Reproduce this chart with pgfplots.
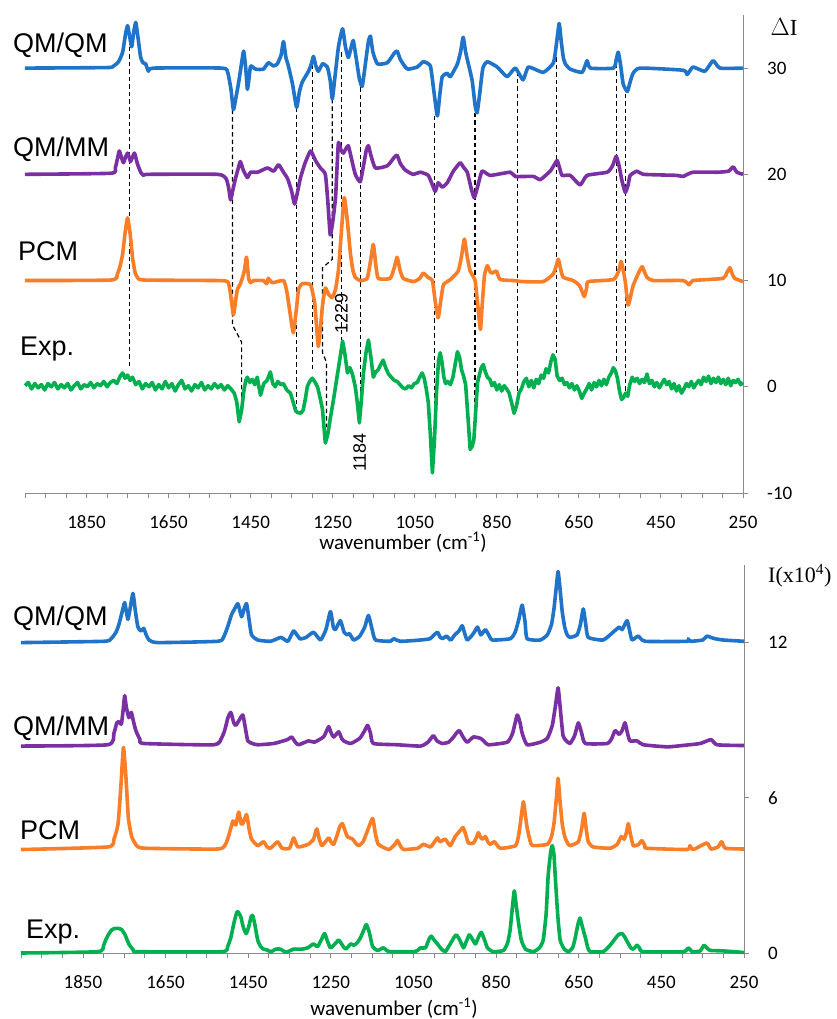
\documentclass[border=0pt]{standalone}
\usepackage{pgfplots}
\pgfplotsset{compat=1.18}
\usepackage{fontspec}
\setmainfont{Carlito}
\newfontfamily\arialfont{Liberation Sans}
\newfontfamily\romanfont{Liberation Serif}

\definecolor{qmqm}{HTML}{1F73C9}
\definecolor{qmmm}{HTML}{7A2FA2}
\definecolor{pcm}{HTML}{FA7D28}
\definecolor{expc}{HTML}{00B050}
\definecolor{axisgray}{HTML}{8A8A8A}

\pgfplotsset{
  spectrum/.style={
    scale only axis, x dir=reverse, xmin=250, xmax=2000,
    axis x line*=bottom, axis y line*=right,
    axis line style={draw=axisgray, line width=0.9pt, -},
    tick style={draw=axisgray, line width=0.9pt},
    tick align=outside, major tick length=5pt, minor tick length=5pt,
    xtick={1850,1650,1450,1250,1050,850,650,450,250},
    xticklabels={1850,1650,1450,1250,1050,850,650,450,250},
    minor xtick={2000,1950,...,250},
    ticklabel style={font=\fontsize{19}{22}\selectfont, inner sep=0pt},
    xticklabel style={anchor=center, yshift=-24pt},
    yticklabel style={anchor=west, xshift=19pt},
    clip=false,
  },
  spec/.style={line width=3.6pt, line join=round, smooth, tension=0.3},
  guide/.style={black, line width=1.2pt, dash pattern=on 4.5pt off 3pt},
}

\begin{document}
\begin{tikzpicture}
\useasboundingbox (0,0) rectangle (836pt,1019pt);

% ---------------- difference spectra ----------------
\begin{axis}[spectrum, at={(25pt,526pt)}, anchor=south west,
  width=718pt, height=478pt, ymin=-10, ymax=35,
  ytick={-10,0,10,20,30}, yticklabels={-10,0,10,20,30}]

% band correlation guides
\addplot[guide] coordinates {(1745,32.0) (1745,1.8)};
\addplot[guide] coordinates {(1494,26.1) (1494,5.8) (1472,4.2) (1472,-1.5)};
\addplot[guide] coordinates {(1338,26.3) (1338,-2.0)};
\addplot[guide] coordinates {(1299,31.0) (1299,1.6)};
\addplot[guide] coordinates {(1251,27.1) (1251,12.0) (1275,11.2) (1275,3.2) (1265,2.3) (1265,-3.8)};
\addplot[guide] coordinates {(1229,31.5) (1229,4.4)};
\addplot[guide] coordinates {(1183,28.2) (1183,-3.3)};
\addplot[guide] coordinates {(1002,25.5) (1002,-6.1)};
\addplot[guide] coordinates {(903,25.8) (903,-4.3)};
\addplot[guide] coordinates {(800,29.7) (800,-0.9)};
\addplot[guide] coordinates {(705,31.0) (705,3.2)};
\addplot[guide] coordinates {(559,30.4) (559,2.3)};
\addplot[guide] coordinates {(537,28.3) (537,-0.9)};

% Exp.
\addplot[expc, line width=3.6pt, line join=round] coordinates {
(2000,0.1) (1992,0.4) (1984,-0.2) (1976,0.3) (1968,-0.1) (1960,0.2) (1952,-0.3) (1944,0.3)
(1936,0.0) (1928,0.4) (1920,-0.2) (1912,0.2) (1904,-0.1) (1896,0.3) (1888,-0.3) (1880,0.1)
(1872,0.4) (1864,-0.2) (1856,0.2) (1848,0.0) (1840,0.4) (1832,-0.1) (1824,0.3) (1816,0.1)
(1808,0.5) (1800,0.0) (1792,0.4) (1784,0.6) (1776,0.3) (1768,1.0) (1762,1.3) (1756,0.8)
(1750,1.1) (1744,0.6) (1738,0.9) (1730,0.2) (1722,0.5) (1714,-0.2) (1706,0.3) (1698,0.0)
(1690,0.4) (1682,-0.3) (1674,0.2) (1666,-0.2) (1658,0.5) (1650,-0.1) (1642,0.3) (1634,-0.4)
(1626,0.2) (1618,0.6) (1610,-0.2) (1602,0.1) (1594,-0.4) (1586,0.2) (1578,-0.1) (1570,0.4)
(1562,-0.3) (1554,0.1) (1546,-0.2) (1538,0.3) (1530,-0.1) (1522,0.2) (1514,-0.3) (1506,0.1)
(1498,-0.2) (1490,-0.6) (1484,-1.4) (1478,-3.3) (1472,-2.2) (1467,-0.5) (1462,0.6) (1458,0.9)
(1452,0.4) (1446,0.7) (1440,0.2) (1434,0.9) (1426,-0.8) (1418,0.3) (1410,0.6) (1402,1.4)
(1396,0.3) (1390,0.0) (1384,0.5) (1376,0.2) (1370,0.3) (1362,-0.3) (1353,-0.6) (1346,-1.5)
(1340,-2.3) (1336,-2.4) (1328,-2.5) (1322,-2.2) (1316,-1.0) (1312,0.0) (1306,0.5) (1300,0.8)
(1294,0.5) (1287,0.0) (1281,-1.0) (1275,-2.1) (1268,-5.3) (1262,-4.5) (1256,-3.0) (1248,-1.2)
(1240,0.8) (1233,2.5) (1226,4.3) (1220,3.0) (1214,1.3) (1208,1.8) (1202,1.2) (1195,0.0)
(1190,-1.5) (1185,-3.4) (1180,-1.2) (1175,1.3) (1169,3.2) (1163,4.4) (1157,2.8) (1151,0.9)
(1145,1.4) (1139,1.6) (1133,2.1) (1127,2.5) (1121,1.8) (1114,1.2) (1107,0.9) (1100,0.6)
(1093,0.5) (1086,0.2) (1079,-0.1) (1072,-0.2) (1065,0.1) (1058,-0.1) (1051,0.3) (1044,0.4)
(1038,0.9) (1032,1.3) (1027,0.8) (1022,-0.2) (1017,-1.5) (1012,-4.5) (1007,-8.1) (1002,-5.0)
(997,-0.5) (992,2.5) (988,3.2) (984,2.4) (979,0.9) (975,0.3) (970,0.5) (963,0.2)
(957,0.9) (952,2.0) (946,3.3) (941,2.8) (936,1.6) (931,1.0) (926,0.2) (921,-2.5)
(915,-5.9) (910,-5.6) (906,-5.0) (901,-2.0) (897,0.4) (892,1.2) (888,1.8) (883,2.1)
(878,1.4) (873,0.9) (867,0.7) (862,0.1) (856,0.4) (850,-0.3) (844,0.2) (838,-0.4)
(832,0.1) (826,-0.2) (820,-0.6) (814,-1.5) (808,-2.5) (802,-1.8) (796,-0.6) (790,-0.2)
(784,0.5) (778,0.8) (772,0.0) (766,0.6) (760,-0.1) (754,0.7) (748,0.3) (742,1.1)
(736,0.8) (730,1.7) (724,1.3) (718,2.4) (713,3.0) (708,2.6) (703,1.0) (697,0.6)
(691,0.8) (685,0.2) (679,0.4) (673,-0.1) (667,0.3) (661,-0.3) (655,0.1) (649,-0.4)
(643,-1.1) (637,-0.6) (631,-0.2) (625,0.3) (619,-0.3) (613,0.4) (607,0.0) (601,0.6)
(595,0.1) (589,0.7) (583,0.2) (577,0.9) (571,1.3) (566,1.8) (561,1.5) (556,0.8)
(551,-0.4) (546,-1.2) (541,-1.0) (536,-0.6) (531,-0.9) (526,0.2) (520,0.9) (514,0.5)
(508,0.8) (502,0.3) (496,0.7) (490,0.4) (484,1.2) (478,0.3) (472,0.6) (466,0.0)
(460,0.4) (454,-0.1) (448,0.3) (442,0.7) (436,0.2) (430,0.5) (424,-0.2) (418,0.3)
(412,-0.4) (406,0.1) (400,-0.6) (394,-0.2) (388,0.3) (382,0.0) (376,0.5) (370,-0.1)
(364,0.3) (358,0.6) (352,0.2) (346,0.9) (340,0.5) (334,1.0) (328,0.3) (322,0.8)
(316,0.4) (310,0.9) (304,0.3) (298,0.7) (292,0.2) (286,0.8) (280,0.1) (274,0.6)
(268,0.4) (262,0.7) (256,0.2) (250,0.4)};

% PCM
\addplot[pcm, spec] coordinates {
(2000,10) (1790,10.05) (1775,10.6) (1768,11.4) (1762,12.5) (1756,14.5) (1750,15.9) (1744,14.5)
(1738,12.2) (1732,10.8) (1726,10.3) (1710,10.05) (1531,10.0) (1506,9.9) (1500,9.0) (1492,6.8)
(1486,8.3) (1482,9.2) (1475,9.7) (1466,10.8) (1460,12.2) (1455,10.2) (1450,9.8) (1443,10.0)
(1419,10.0) (1411,9.7) (1407,10.2) (1397,9.8) (1370,10.0) (1362,9.0) (1355,7.2) (1346,5.1)
(1338,7.5) (1333,9.2) (1324,9.7) (1304,9.6) (1294,7.9) (1289,5.5) (1285,3.8) (1280,5.5)
(1275,7.6) (1268,9.3) (1260,8.7) (1251,8.4) (1243,9.2) (1236,11.0) (1230,14.0) (1222,17.8)
(1214,15.5) (1207,12.6) (1201,11.0) (1195,10.3) (1183,10.0) (1166,10.2) (1158,11.8) (1151,13.4)
(1145,11.5) (1139,10.2) (1110,10.2) (1100,11.2) (1093,12.2) (1086,11.0) (1078,10.2) (1053,9.9)
(1038,10.2) (1029,10.7) (1018,10.3) (1007,10.0) (1000,8.0) (993,6.5) (987,8.0) (980,9.6)
(963,10.1) (944,10.9) (936,12.3) (929,13.9) (922,12.2) (915,10.9) (903,10.0) (896,7.5)
(890,5.4) (886,7.5) (880,10.5) (873,11.4) (866,10.8) (861,10.7) (851,10.9) (842,10.1)
(810,10.0) (786,9.9) (737,9.9) (713,10.6) (705,11.4) (700,12.0) (694,11.0) (688,10.3)
(664,10.0) (648,9.5) (637,8.5) (631,9.3) (627,9.9) (566,10.1) (553,10.9) (547,11.8)
(542,11.0) (537,9.9) (530,7.7) (524,8.5) (518,9.5) (506,10.6) (496,11.3) (490,10.8)
(484,10.3) (469,10.0) (396,10.0) (381,9.6) (372,10.0) (299,10.2) (290,10.7) (282,11.2)
(276,10.6) (270,10.2) (250,9.9)};

% QM/MM
\addplot[qmmm, spec] coordinates {
(2000,20) (1791,20.1) (1780,20.6) (1774,21.6) (1770,22.2) (1765,21.6) (1760,21.1) (1755,21.6)
(1750,22.0) (1746,21.6) (1743,21.2) (1738,21.6) (1733,22.0) (1726,21.0) (1718,20.2) (1711,19.9)
(1700,20.0) (1531,20.0) (1510,19.6) (1504,18.8) (1499,17.6) (1494,18.4) (1487,19.6) (1480,20.6)
(1475,21.2) (1468,20.4) (1458,19.7) (1450,20.2) (1433,20.2) (1409,20.6) (1394,20.3) (1382,20.9)
(1370,20.2) (1360,19.6) (1350,18.4) (1343,17.2) (1336,18.3) (1329,19.6) (1318,21.0) (1304,22.2)
(1292,21.3) (1280,20.6) (1268,20.0) (1262,17.5) (1256,14.3) (1249,15.8) (1243,17.9) (1239,21.0)
(1236,23.0) (1230,22.3) (1224,22.0) (1218,22.4) (1212,22.7) (1205,21.6) (1195,20.0) (1183,19.3)
(1175,20.8) (1168,22.3) (1163,22.7) (1157,21.8) (1146,20.6) (1117,20.8) (1100,21.6) (1093,21.8)
(1085,21.0) (1073,20.4) (1054,20.0) (1036,20.2) (1017,19.9) (1007,19.0) (1000,18.4) (993,19.2)
(983,18.8) (971,19.2) (956,20.3) (946,20.8) (939,21.1) (930,20.6) (922,20.2) (912,18.6)
(905,17.8) (897,18.8) (886,20.3) (866,19.9) (817,20.2) (805,19.8) (761,19.8) (744,19.5)
(720,20.3) (710,20.9) (703,21.3) (697,20.6) (691,19.9) (671,19.9) (647,19.0) (630,19.9)
(581,20.2) (568,20.8) (559,21.7) (552,20.8) (545,19.4) (537,18.3) (530,19.0) (525,19.9)
(508,20.3) (493,20.0) (411,19.9) (396,19.8) (372,20.2) (311,20.2) (285,20.3) (274,20.7)
(265,20.2) (250,20.0)};

% QM/QM
\addplot[qmqm, spec] coordinates {
(2000,30) (1800,30.05) (1784,30.2) (1772,30.6) (1762,31.5) (1755,33.2) (1750,34.0) (1745,33.0)
(1740,32.0) (1735,33.4) (1730,34.3) (1725,33.0) (1718,31.0) (1712,30.5) (1706,30.4) (1699,29.7)
(1687,30.0) (1520,30.0) (1506,29.6) (1498,28.0) (1492,26.1) (1486,27.2) (1479,28.7) (1472,30.5)
(1467,31.6) (1462,30.0) (1458,28.0) (1454,29.0) (1450,30.2) (1438,29.9) (1419,29.9) (1407,30.5)
(1394,30.2) (1385,30.4) (1376,31.2) (1370,32.5) (1364,31.0) (1358,30.2) (1348,28.5) (1338,26.3)
(1331,27.8) (1324,28.7) (1309,29.7) (1302,30.4) (1297,31.1) (1291,30.2) (1285,29.7) (1275,30.4)
(1263,30.1) (1256,28.8) (1251,27.1) (1245,29.0) (1236,32.0) (1226,33.7) (1219,32.0) (1212,31.0)
(1206,31.8) (1200,32.6) (1193,31.0) (1185,29.0) (1178,28.3) (1170,30.5) (1163,32.5) (1158,33.0)
(1152,31.5) (1141,30.4) (1117,30.5) (1100,31.4) (1093,31.6) (1085,30.8) (1073,30.1) (1066,29.9)
(1044,30.1) (1029,30.6) (1012,30.2) (1004,28.0) (995,25.5) (989,27.5) (983,29.2) (971,29.5)
(963,29.2) (946,30.4) (938,31.6) (932,32.9) (926,31.5) (920,30.5) (910,28.8) (903,26.5)
(898,25.8) (892,27.5) (884,30.0) (873,30.6) (849,30.1) (825,29.2) (805,30.0) (786,28.9)
(773,30.1) (737,29.6) (712,30.5) (704,32.5) (698,34.2) (693,32.5) (688,31.0) (683,30.4)
(671,29.9) (642,29.6) (630,30.7) (622,30.0) (566,30.0) (559,30.8) (554,31.5) (548,30.2)
(542,28.5) (532,27.8) (525,28.7) (518,29.5) (501,30.0) (396,29.8) (386,29.4) (372,30.1)
(343,29.7) (323,30.7) (306,30.0) (250,30.0)};

\node[rotate=90, font=\arialfont\fontsize{18}{20}\selectfont] at (axis cs:1229,6.9) {1229};
\node[rotate=90, font=\arialfont\fontsize{18}{20}\selectfont] at (axis cs:1184,-6.2) {1184};
\end{axis}

% ---------------- absorption spectra ----------------
\begin{axis}[spectrum, at={(21pt,66pt)}, anchor=south west,
  width=723pt, height=388pt, ymin=0, ymax=15,
  ytick={0,6,12}, yticklabels={0,6,12}]

% Exp.
\addplot[expc, spec] coordinates {
(2000,0.0) (1814,0.05) (1800,0.3) (1795,0.5) (1787,0.75) (1780,0.9) (1772,0.95) (1764,0.95)
(1756,0.9) (1748,0.7) (1739,0.35) (1728,0.12) (1717,0.05) (1514,0.05) (1500,0.25) (1492,0.6)
(1484,1.2) (1478,1.55) (1475,1.6) (1468,1.4) (1462,1.0) (1455,0.75) (1449,1.0) (1443,1.4)
(1439,1.45) (1434,1.1) (1427,0.5) (1420,0.25) (1413,0.15) (1405,0.12) (1395,0.05) (1383,0.15)
(1372,0.15) (1362,0.05) (1354,0.05) (1340,0.15) (1320,0.15) (1306,0.2) (1292,0.35) (1282,0.25)
(1272,0.55) (1265,0.75) (1258,0.45) (1251,0.2) (1240,0.35) (1231,0.5) (1222,0.3) (1214,0.15)
(1202,0.35) (1194,0.3) (1186,0.4) (1178,0.6) (1170,0.9) (1164,1.1) (1157,0.8) (1149,0.25)
(1137,0.1) (1123,0.2) (1115,0.1) (1106,0.05) (1050,0.05) (1040,0.1) (1033,0.2) (1021,0.2)
(1012,0.55) (1007,0.65) (1000,0.5) (992,0.35) (982,0.15) (973,0.05) (961,0.35) (952,0.6)
(946,0.7) (938,0.5) (929,0.2) (922,0.45) (915,0.7) (908,0.55) (900,0.35) (893,0.6)
(886,0.8) (879,0.55) (871,0.2) (857,0.05) (832,0.1) (822,0.4) (816,0.9) (811,1.7)
(806,2.4) (801,1.8) (796,1.2) (789,0.5) (779,0.15) (760,0.05) (745,0.2) (736,0.5)
(729,1.5) (724,3.0) (718,3.9) (714,4.15) (710,3.8) (707,3.0) (701,1.5) (695,0.5)
(685,0.15) (675,0.05) (665,0.2) (659,0.55) (652,1.1) (647,1.35) (641,1.0) (634,0.6)
(628,0.2) (622,0.05) (591,0.05) (574,0.3) (562,0.55) (553,0.72) (545,0.75) (538,0.6)
(533,0.45) (524,0.2) (518,0.15) (512,0.25) (509,0.3) (503,0.2) (494,0.05) (397,0.05)
(385,0.2) (375,0.05) (356,0.08) (347,0.3) (340,0.2) (332,0.1) (300,0.08) (250,0.02)};

% PCM
\addplot[pcm, spec] coordinates {
(2000,4.0) (1790,4.1) (1775,4.4) (1765,5.0) (1758,6.5) (1752,7.95) (1746,6.8) (1740,5.2)
(1732,4.5) (1720,4.15) (1700,4.05) (1524,4.02) (1505,4.2) (1497,4.55) (1487,5.1) (1480,4.95)
(1473,5.45) (1467,5.0) (1463,5.0) (1454,5.35) (1448,4.8) (1442,4.4) (1427,4.15) (1413,4.3)
(1404,4.1) (1396,4.05) (1379,4.3) (1368,4.05) (1350,4.05) (1340,4.45) (1330,4.1) (1305,4.2)
(1292,4.4) (1284,4.8) (1278,4.4) (1272,4.15) (1263,4.3) (1255,4.45) (1248,4.25) (1243,4.2)
(1235,4.55) (1228,4.9) (1222,5.0) (1215,4.7) (1210,4.5) (1197,4.4) (1190,4.25) (1183,4.15)
(1172,4.3) (1162,4.7) (1149,5.2) (1142,4.6) (1135,4.2) (1110,4.0) (1095,4.2) (1089,4.35)
(1082,4.15) (1074,4.0) (1040,4.05) (1026,4.2) (1009,4.1) (999,4.3) (992,4.45) (986,4.3)
(980,4.35) (973,4.4) (961,4.15) (949,4.5) (936,4.75) (930,4.85) (924,4.6) (917,4.25)
(905,4.25) (898,4.45) (893,4.65) (887,4.45) (883,4.4) (876,4.5) (870,4.3) (864,4.2)
(854,4.3) (840,4.05) (803,4.15) (795,4.6) (789,5.3) (784,5.85) (779,5.3) (775,4.85)
(768,4.35) (762,4.15) (726,4.2) (716,4.5) (710,5.0) (704,6.0) (700,6.75) (696,6.0)
(690,5.0) (684,4.5) (677,4.25) (671,4.15) (651,4.3) (643,4.8) (637,5.4) (632,4.8)
(627,4.3) (615,4.1) (574,4.05) (557,4.2) (547,4.5) (540,4.4) (534,4.7) (530,5.0)
(525,4.6) (518,4.15) (505,4.2) (497,4.35) (490,4.15) (485,4.05) (388,4.0) (381,4.15)
(373,4.0) (340,4.25) (330,4.02) (313,4.1) (304,4.3) (295,4.05) (250,4.02)};

% QM/MM
\addplot[qmmm, spec] coordinates {
(2000,8.0) (1790,8.05) (1775,8.5) (1768,8.9) (1763,8.95) (1757,8.85) (1752,9.5) (1749,9.95)
(1745,9.5) (1739,9.1) (1733,9.3) (1727,8.9) (1722,8.6) (1712,8.25) (1703,8.1) (1533,8.05)
(1515,8.3) (1507,8.6) (1499,9.1) (1492,9.3) (1485,8.9) (1480,8.8) (1472,9.0) (1463,9.2)
(1457,8.7) (1451,8.2) (1440,8.1) (1427,8.05) (1388,8.1) (1355,8.25) (1345,8.35) (1336,8.15)
(1328,8.05) (1304,8.2) (1290,8.15) (1268,8.35) (1260,8.6) (1255,8.75) (1249,8.5) (1243,8.35)
(1231,8.55) (1224,8.3) (1219,8.2) (1202,8.1) (1180,8.3) (1168,8.6) (1161,8.8) (1154,8.5)
(1147,8.1) (1089,8.05) (1033,8.0) (1015,8.15) (1002,8.4) (993,8.2) (980,8.1) (965,8.15)
(953,8.35) (946,8.5) (939,8.6) (930,8.35) (920,8.15) (905,8.35) (888,8.3) (880,8.2)
(869,8.05) (823,8.15) (810,8.5) (799,9.2) (792,8.9) (787,8.5) (775,8.05) (743,8.15)
(726,8.3) (714,8.8) (706,9.6) (700,10.25) (695,9.5) (688,8.4) (680,8.2) (671,8.1)
(660,8.4) (651,8.9) (643,8.5) (634,8.1) (581,8.1) (570,8.3) (562,8.6) (552,8.45)
(545,8.6) (538,8.9) (532,8.5) (526,8.2) (509,8.2) (494,8.05) (436,7.97) (400,8.02)
(356,8.1) (330,8.25) (315,8.05) (250,8.02)};

% QM/QM
\addplot[qmqm, spec] coordinates {
(2000,12.0) (1800,12.05) (1782,12.15) (1770,12.4) (1763,12.7) (1755,13.2) (1749,13.55) (1744,13.1)
(1741,12.9) (1736,13.3) (1729,13.9) (1723,13.2) (1717,12.6) (1710,12.45) (1703,12.55) (1697,12.3)
(1690,12.1) (1669,12.0) (1524,12.05) (1510,12.2) (1500,12.6) (1490,13.1) (1483,13.3) (1475,13.5)
(1466,13.0) (1460,13.3) (1454,13.5) (1448,12.9) (1442,12.3) (1427,12.1) (1396,12.05) (1371,12.2)
(1354,12.05) (1340,12.45) (1325,12.15) (1310,12.2) (1292,12.4) (1275,12.1) (1262,12.5) (1251,13.2)
(1244,12.6) (1239,12.5) (1227,12.85) (1218,12.4) (1210,12.3) (1205,12.35) (1195,12.1) (1180,12.25)
(1168,12.6) (1159,13.05) (1150,12.5) (1142,12.1) (1106,12.05) (1098,12.15) (1081,12.05) (1033,12.1)
(1010,12.15) (1000,12.3) (992,12.4) (985,12.2) (980,12.15) (970,12.25) (960,12.1) (950,12.3)
(940,12.45) (932,12.65) (925,12.3) (920,12.1) (910,12.25) (903,12.4) (895,12.6) (887,12.3)
(876,12.5) (868,12.3) (859,12.1) (816,12.15) (804,12.4) (795,12.9) (787,13.45) (780,12.8)
(775,12.15) (743,12.1) (726,12.3) (716,12.7) (710,13.3) (704,14.2) (700,14.75) (696,14.2)
(690,13.2) (684,12.6) (678,12.3) (671,12.2) (654,12.3) (646,12.7) (639,13.3) (633,12.7)
(627,12.2) (591,12.1) (567,12.4) (552,12.6) (545,12.5) (533,12.85) (526,12.4) (521,12.1)
(506,12.25) (489,12.05) (388,12.05) (385,12.15) (380,12.05) (350,12.1) (340,12.25) (330,12.2)
(320,12.15) (300,12.1) (250,12.05)};
\end{axis}

% axis titles
\node[font=\fontsize{21}{24}\selectfont] at (403pt,477pt) {wavenumber (cm\textsuperscript{-1})};
\node[font=\fontsize{21}{24}\selectfont] at (394pt,11pt) {wavenumber (cm\textsuperscript{-1})};
\node[font=\romanfont\fontsize{23}{25}\selectfont] at (784pt,992pt) {$\Delta$I};
\node[font=\romanfont\fontsize{22}{24}\selectfont, anchor=west, inner sep=0pt] at (768pt,443pt) {I(x10\textsuperscript{4})};

% series names
\begin{scope}[every node/.style={anchor=base west, inner sep=0pt, font=\arialfont\fontsize{27}{30}\selectfont}]
\node at (13pt,966pt) {QM/QM};
\node at (13pt,862pt) {QM/MM};
\node at (18pt,758pt) {PCM};
\node at (20pt,663pt) {Exp.};
\node at (13pt,393pt) {QM/QM};
\node at (13pt,283pt) {QM/MM};
\node at (20pt,179pt) {PCM};
\node at (26pt,80pt) {Exp.};
\end{scope}
\end{tikzpicture}
\end{document}
